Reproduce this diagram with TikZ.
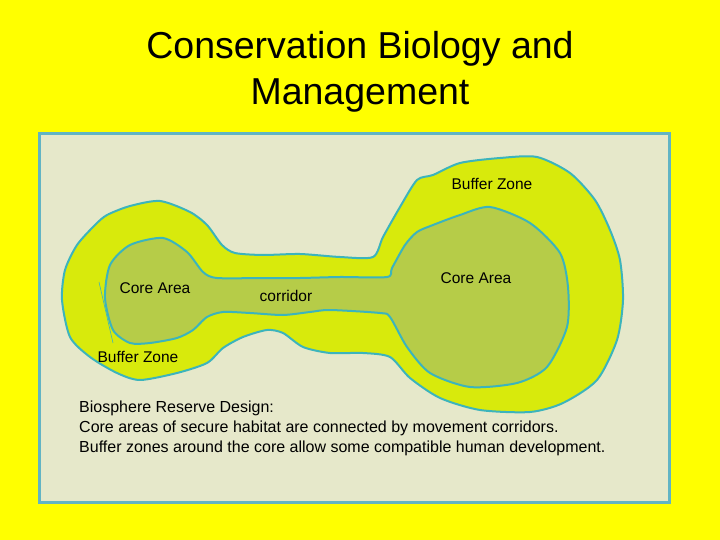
\documentclass[tikz,border=0pt]{standalone}
\usepackage{fontspec}
\setmainfont{Liberation Sans}
\definecolor{slideyellow}{HTML}{FFFF00}
\definecolor{panelfill}{HTML}{E6E8CA}
\definecolor{panelline}{HTML}{62B4C4}
\definecolor{bufferfill}{HTML}{D8EA0C}
\definecolor{corefill}{HTML}{B6CC48}
\definecolor{zoneline}{HTML}{3CB4BC}
\begin{document}
\begin{tikzpicture}[x=1pt, y=-1pt,
    zone/.style={draw=zoneline, line width=2pt, line join=round},
    zonetext/.style={font=\fontsize{15.5}{18}\selectfont, inner sep=0pt},
    notetext/.style={font=\fontsize{16}{20}\selectfont, anchor=west, inner sep=0pt}]
    % Slide background
    \fill[slideyellow] (0,0) rectangle (720,540);
    \useasboundingbox (0,0) rectangle (720,540);

    % Title
    \node[font=\fontsize{37.5}{46}\selectfont, align=center] (title) at (360,72) {Conservation Biology and\\Management};

    % Panel
    \draw[panelline, fill=panelfill, line width=3pt] (39,134) rectangle (669,502);

    % Buffer zone around both cores and the corridor
    \draw[zone, fill=bufferfill] plot[smooth cycle, tension=0.45] coordinates {
        (160,201) (190,212) (207,225) (222,245) (235,253) (263,255) (300,254)
        (340,257) (373,257) (383,237) (400,207) (417,180) (433,175) (460,163)
        (500,158) (537,157) (570,173) (595,200) (610,230) (620,260) (623,300)
        (617,340) (597,380) (563,403) (530,412) (480,410) (440,398) (410,378)
        (390,357) (363,353) (330,353) (303,347) (283,333) (267,330) (243,337)
        (223,348) (207,363) (177,373) (140,380) (117,373) (90,357) (70,337)
        (62,300) (65,270) (77,245) (95,225) (107,215) (130,206)};

    % Core areas joined by the corridor
    \draw[zone, fill=corefill] plot[smooth cycle, tension=0.45] coordinates {
        (163,238) (187,252) (203,272) (217,278) (263,278) (300,278) (340,277)
        (387,277) (392,268) (405,245) (417,232) (433,225) (460,215) (490,207)
        (530,223) (560,253) (568,287) (567,327) (547,367) (517,383) (470,387)
        (430,373) (407,347) (390,317) (380,313) (330,310) (310,312) (283,315)
        (250,313) (223,312) (207,317) (193,330) (177,338) (150,343) (130,343)
        (113,330) (105,298) (110,265) (130,245)};
    \draw[zoneline, line width=0.6pt] (99,282) -- (113,343);

    % Labels
    \node[zonetext] (core_left) at (155,288) {Core Area};
    \node[zonetext] (corridor) at (286,296) {corridor};
    \node[zonetext] (buffer_left) at (138,357) {Buffer Zone};
    \node[zonetext] (buffer_right) at (492,184) {Buffer Zone};
    \node[zonetext] (core_right) at (476,278) {Core Area};

    % Caption
    \node[notetext] (note1) at (79,408) {Biosphere Reserve Design:};
    \node[notetext] (note2) at (79,428) {Core areas of secure habitat are connected by movement corridors.};
    \node[notetext] (note3) at (79,448) {Buffer zones around the core allow some compatible human development.};
\end{tikzpicture}
\end{document}
